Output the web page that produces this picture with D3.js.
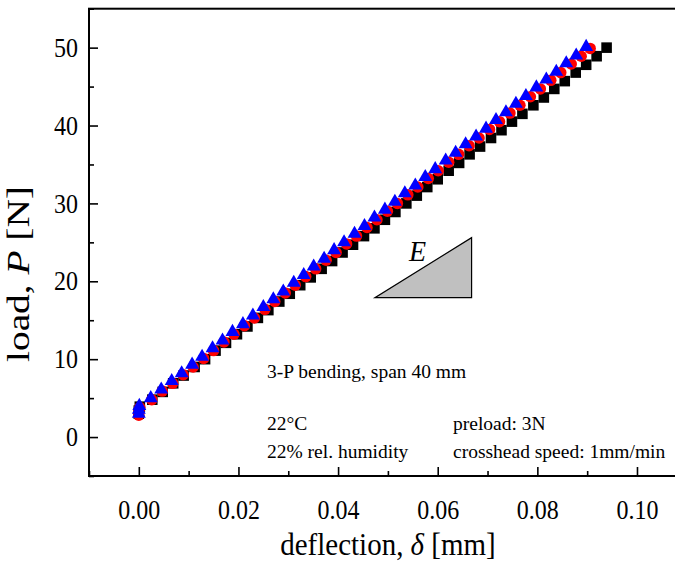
<!DOCTYPE html>
<html>
<head>
<meta charset="utf-8">
<script src="https://cdn.jsdelivr.net/npm/d3@7/dist/d3.min.js"></script>
<style>
  html, body { margin: 0; padding: 0; background: #fff; }
  svg { display: block; }
  text { font-family: "Liberation Serif", "Times New Roman", serif; fill: #000; }
</style>
</head>
<body>
<svg id="chart" width="675" height="563"></svg>
<script>
// Three-point bending: load vs. deflection, three specimens
const deltaBlack = [0.0000, 0.0000, 0.0002, 0.0027, 0.0048, 0.0069, 0.0090, 0.0112, 0.0133, 0.0154,
  0.0175, 0.0197, 0.0218, 0.0239, 0.0260, 0.0282, 0.0303, 0.0324, 0.0345, 0.0367,
  0.0388, 0.0409, 0.0430, 0.0452, 0.0473, 0.0494, 0.0515, 0.0537, 0.0558, 0.0579,
  0.0600, 0.0622, 0.0643, 0.0664, 0.0685, 0.0707, 0.0728, 0.0749, 0.0770, 0.0792,
  0.0813, 0.0834, 0.0855, 0.0877, 0.0898, 0.0919, 0.0939];
const loadBlack = [3.0, 3.4, 3.9, 4.8, 5.8, 6.9, 7.9, 9.0, 10.0, 11.1,
  12.1, 13.2, 14.2, 15.3, 16.3, 17.4, 18.4, 19.5, 20.5, 21.6,
  22.6, 23.7, 24.7, 25.8, 26.8, 27.9, 28.9, 30.0, 31.0, 32.1,
  33.1, 34.2, 35.2, 36.3, 37.3, 38.4, 39.4, 40.5, 41.5, 42.6,
  43.6, 44.7, 45.7, 46.8, 47.8, 48.9, 50.0];

const deltaRed = [0.0000, 0.0000, 0.0002, 0.0026, 0.0047, 0.0068, 0.0089, 0.0109, 0.0130, 0.0150,
  0.0171, 0.0191, 0.0212, 0.0232, 0.0253, 0.0273, 0.0294, 0.0314, 0.0335, 0.0355,
  0.0376, 0.0396, 0.0417, 0.0437, 0.0458, 0.0478, 0.0499, 0.0519, 0.0540, 0.0560,
  0.0581, 0.0601, 0.0622, 0.0642, 0.0663, 0.0683, 0.0704, 0.0724, 0.0745, 0.0765,
  0.0786, 0.0806, 0.0827, 0.0847, 0.0868, 0.0888, 0.0906];
const loadRed = [2.8, 3.3, 3.8, 4.8, 5.9, 6.9, 8.0, 9.0, 10.1, 11.1,
  12.2, 13.2, 14.3, 15.3, 16.4, 17.4, 18.5, 19.5, 20.6, 21.6,
  22.7, 23.7, 24.8, 25.8, 26.9, 27.9, 29.0, 30.0, 31.1, 32.1,
  33.2, 34.2, 35.3, 36.3, 37.4, 38.4, 39.5, 40.5, 41.6, 42.6,
  43.7, 44.7, 45.8, 46.8, 47.9, 48.9, 49.9];

const deltaBlue = [0.0000, 0.0000, 0.0001, 0.0024, 0.0045, 0.0066, 0.0086, 0.0107, 0.0127, 0.0148,
  0.0168, 0.0188, 0.0209, 0.0229, 0.0250, 0.0270, 0.0290, 0.0311, 0.0331, 0.0351,
  0.0372, 0.0392, 0.0412, 0.0433, 0.0453, 0.0473, 0.0494, 0.0514, 0.0534, 0.0555,
  0.0575, 0.0595, 0.0616, 0.0636, 0.0656, 0.0677, 0.0697, 0.0717, 0.0737, 0.0757,
  0.0777, 0.0798, 0.0818, 0.0838, 0.0858, 0.0878, 0.0898];
const loadBlue = [3.0, 3.5, 4.0, 5.0, 6.1, 7.2, 8.2, 9.3, 10.3, 11.4,
  12.4, 13.5, 14.5, 15.6, 16.7, 17.7, 18.7, 19.8, 20.8, 21.9,
  22.9, 24.0, 25.0, 26.1, 27.1, 28.2, 29.2, 30.2, 31.3, 32.3,
  33.4, 34.4, 35.5, 36.5, 37.6, 38.6, 39.6, 40.7, 41.7, 42.8,
  43.8, 44.9, 45.9, 46.9, 48.0, 49.0, 50.1];

const xTicks = [0, 0.02, 0.04, 0.06, 0.08, 0.10];
const xMinorTicks = [-0.01, 0.01, 0.03, 0.05, 0.07, 0.09, 0.11];
const yTicks = [0, 10, 20, 30, 40, 50];
const yMinorTicks = [-5, 5, 15, 25, 35, 45, 55];

const svg = d3.select("#chart");
const x = d3.scaleLinear().domain([-0.01, 0.11]).range([89, 686.8]);
const y = d3.scaleLinear().domain([-5, 55]).range([476, 8.7]);
const stretch = 1.12;   // tall glyph look of the labels

// series markers
const series = [
  { dx: deltaBlack, p: loadBlack, type: d3.symbolSquare, size: 112, color: "#000000" },
  { dx: deltaRed,   p: loadRed,   type: d3.symbolCircle, size: 104, color: "#ff0000" },
  { dx: deltaBlue,  p: loadBlue,  type: d3.symbolTriangle, size: 84, color: "#0000ff" }
];
series.forEach(s => {
  const pts = s.dx.map((d, i) => [d, s.p[i]]);
  svg.append("g").selectAll("path").data(pts).join("path")
    .attr("transform", d => `translate(${x(d[0])},${y(d[1])})`)
    .attr("d", d3.symbol().type(s.type).size(s.size))
    .attr("fill", s.color);
});

// slope triangle marking the modulus E
const tri = { x0: 0.0474, x1: 0.0668, y0: 17.9, y1: 25.6 };
svg.append("path")
  .attr("d", `M${x(tri.x0)},${y(tri.y0)}L${x(tri.x1)},${y(tri.y0)}L${x(tri.x1)},${y(tri.y1)}Z`)
  .attr("fill", "#c0c0c0").attr("stroke", "#000").attr("stroke-width", 1.2);
svg.append("text")
  .attr("transform", `translate(409,261) scale(1,1.06)`)
  .attr("font-size", 28).attr("font-style", "italic").text("E");

// test conditions
const notes = [
  { t: "3-P bending, span 40 mm", x: 267, y: 378 },
  { t: "22°C", x: 267, y: 430 },
  { t: "preload: 3N", x: 453, y: 430 },
  { t: "22% rel. humidity", x: 267, y: 458 },
  { t: "crosshead speed: 1mm/min", x: 453, y: 458 }
];
svg.append("g").selectAll("text").data(notes).join("text")
  .attr("x", d => d.x).attr("y", d => d.y)
  .attr("font-size", 19.5).text(d => d.t);

// axes with inward ticks
const xAxis = svg.append("g").attr("transform", `translate(0,${y(-5)})`)
  .call(d3.axisBottom(x).tickValues(xTicks).tickSize(-9).tickSizeOuter(0)
    .tickFormat(d3.format(".2f")));
xAxis.selectAll("text")
  .attr("y", 43 / stretch).attr("dy", 0)
  .attr("transform", `scale(1,${stretch})`)
  .attr("font-size", 24).attr("font-family", null).attr("fill", "#000");
svg.append("g").attr("transform", `translate(0,${y(-5)})`)
  .call(d3.axisBottom(x).tickValues(xMinorTicks).tickSize(-5).tickSizeOuter(0).tickFormat(""));

const yAxis = svg.append("g").attr("transform", `translate(${x(-0.01)},0)`)
  .call(d3.axisLeft(y).tickValues(yTicks).tickSize(-9).tickSizeOuter(0).tickPadding(11)
    .tickFormat(d3.format("d")));
yAxis.selectAll("text")
  .attr("transform", `scale(1,${stretch})`)
  .attr("font-size", 24).attr("font-family", null).attr("fill", "#000");
svg.append("g").attr("transform", `translate(${x(-0.01)},0)`)
  .call(d3.axisLeft(y).tickValues(yMinorTicks).tickSize(-5).tickSizeOuter(0).tickFormat(""));

svg.selectAll(".domain").remove();
svg.selectAll(".tick line").attr("stroke", "#000").attr("stroke-width", 1.6);

// plot frame
svg.append("rect")
  .attr("x", x(-0.01)).attr("y", y(55))
  .attr("width", x(0.11) - x(-0.01)).attr("height", y(-5) - y(55))
  .attr("fill", "none").attr("stroke", "#000").attr("stroke-width", 2);

// axis titles
const xt = svg.append("text")
  .attr("transform", `translate(388,555) scale(1,${stretch})`)
  .attr("text-anchor", "middle").attr("font-size", 29);
xt.append("tspan").text("deflection, ");
xt.append("tspan").attr("font-style", "italic").text("δ");
xt.append("tspan").text(" [mm]");

const yt = svg.append("text").attr("text-anchor", "middle").attr("font-size", 31);
yt.append("tspan").text("load, ");
yt.append("tspan").attr("font-style", "italic").text("P");
yt.append("tspan").text(" [N]");
const natural = yt.node().getComputedTextLength();
yt.attr("transform", `translate(29,274) rotate(-90) scale(${176 / natural},1)`);
</script>
</body>
</html>
